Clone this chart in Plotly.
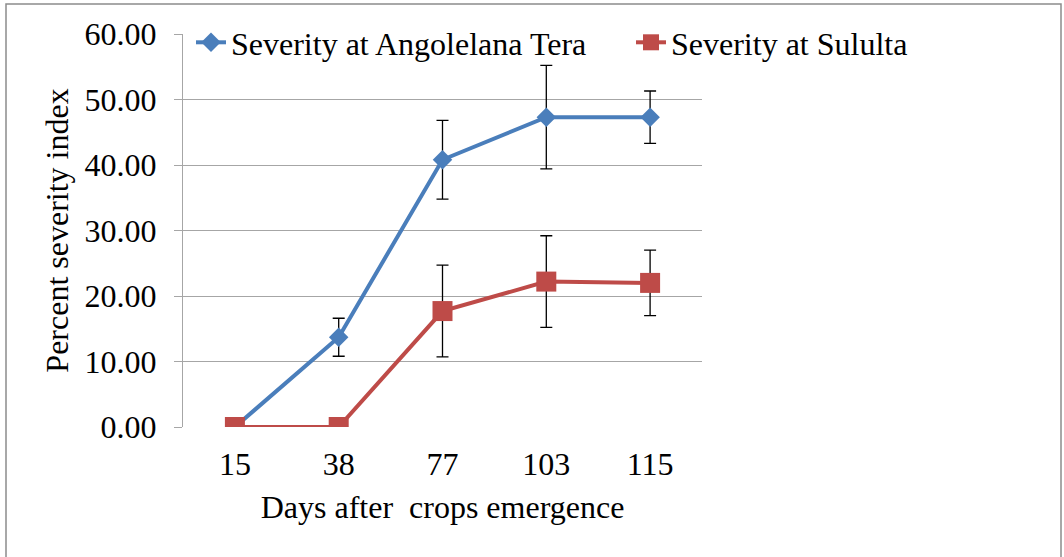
import plotly.graph_objects as go

days = ["15", "38", "77", "103", "115"]
angolelana = [0.0, 13.7, 40.8, 47.3, 47.3]
angolelana_err = [0.0, 2.9, 6.0, 7.9, 4.0]
sululta = [0.0, 0.0, 17.7, 22.2, 22.0]
sululta_err = [0.0, 0.0, 7.0, 7.0, 5.0]
yticks = [0, 10, 20, 30, 40, 50, 60]

FONT = "Liberation Serif, Times New Roman, serif"
BLUE = "#4A7EBB"
RED = "#BE4B48"
FS = 32

def errs(v):
    return [e if e > 0 else None for e in v]

fig = go.Figure()
fig.add_trace(go.Scatter(
    x=days, y=angolelana, name="Severity at Angolelana Tera",
    mode="lines+markers",
    line=dict(color=BLUE, width=4),
    marker=dict(symbol="diamond", size=15, color=BLUE),
    error_y=dict(type="data", array=errs(angolelana_err), color="black", thickness=1.3, width=6),
    legend="legend",
))
fig.add_trace(go.Scatter(
    x=days, y=sululta, name="Severity at Sululta",
    mode="lines+markers",
    line=dict(color=RED, width=4),
    marker=dict(symbol="square", size=20, color=RED),
    error_y=dict(type="data", array=errs(sululta_err), color="black", thickness=1.3, width=6),
    legend="legend2",
))

L, R, T, B = 183, 1064 - 702, 34, 557 - 427
pw, ph = 1064 - L - R, 557 - T - B

def px(x):
    return (x - L) / pw

def py(y):
    return (557 - B - y) / ph

leg_common = dict(orientation="h", xanchor="left", yanchor="top",
                  bgcolor="rgba(255,255,255,0)", font=dict(size=FS, family=FONT))

fig.update_layout(
    width=1064, height=557,
    margin=dict(l=L, r=R, t=T, b=B),
    paper_bgcolor="white", plot_bgcolor="white",
    font=dict(family=FONT, size=FS, color="black"),
    showlegend=True,
    legend=dict(x=px(191), y=py(15), **leg_common),
    legend2=dict(x=px(631), y=py(15), **leg_common),
    xaxis=dict(
        type="category", range=[-0.5, 4.5], showgrid=False, showline=False, ticks="",
        tickfont=dict(size=FS, family=FONT), ticklabelstandoff=15,
        title=dict(text="Days after\u00a0 crops emergence", font=dict(size=FS, family=FONT), standoff=14),
    ),
    yaxis=dict(
        range=[0, 60], tickvals=yticks, ticktext=[f"{v:.2f}" for v in yticks],
        showgrid=True, gridcolor="#A6A6A6", gridwidth=1.3,
        showline=True, linecolor="#A6A6A6", linewidth=1.3,
        ticks="outside", ticklen=8, tickcolor="#A6A6A6",
        tickfont=dict(size=FS, family=FONT), ticklabelstandoff=11,
        zeroline=False,
        title=dict(text="Percent severity index", font=dict(size=FS, family=FONT), standoff=6),
    ),
    shapes=[dict(type="rect", xref="paper", yref="paper",
                 x0=px(6), x1=px(1061), y0=py(600), y1=py(4),
                 line=dict(color="#8C8C8C", width=1.5), fillcolor="rgba(0,0,0,0)", layer="below")],
)

fig.write_html("out.html", config={"displayModeBar": False},
               post_script="document.body.style.margin='0';document.body.style.overflow='hidden';")
